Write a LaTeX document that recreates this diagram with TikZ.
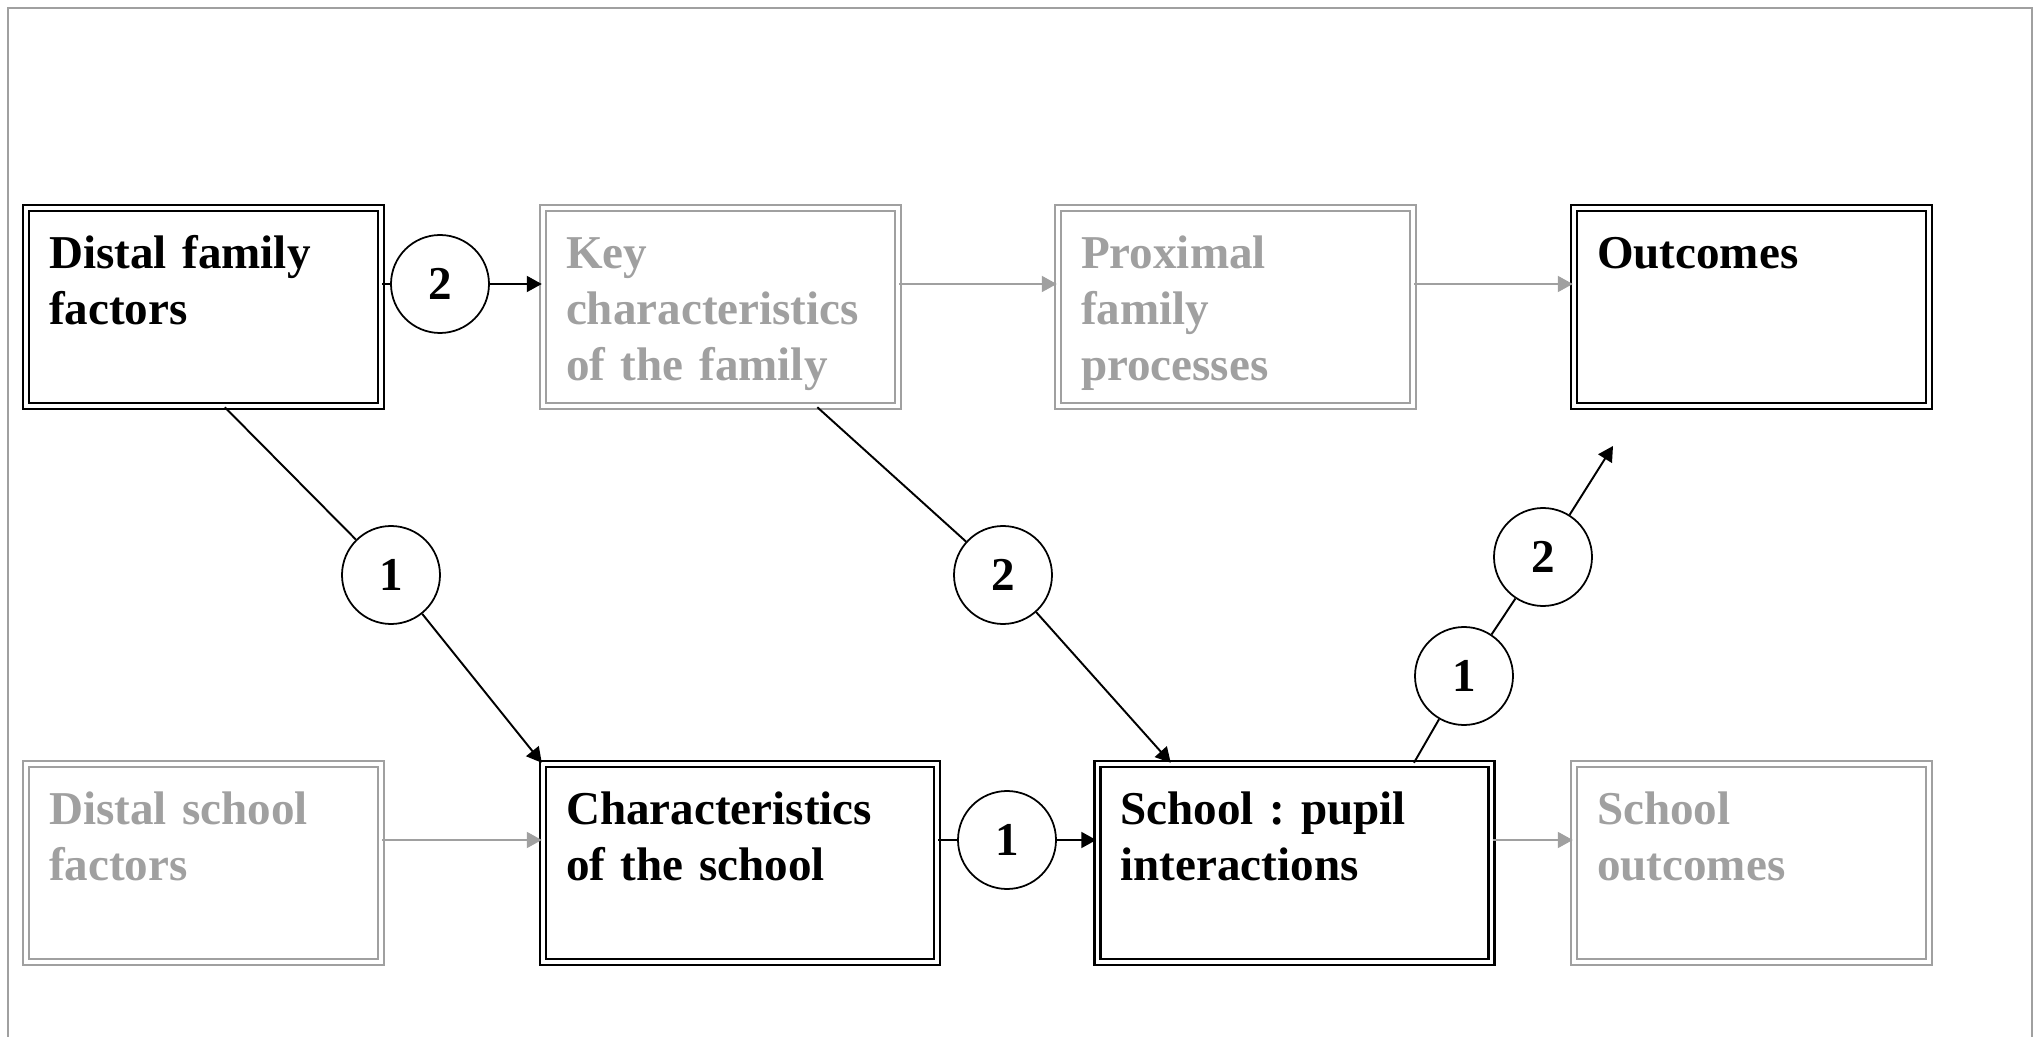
\documentclass[tikz,border=0pt]{standalone}
\usepackage{fontspec}
\setmainfont{Liberation Serif}
\usepackage{xcolor}
\usepackage{tikz}
\usetikzlibrary{arrows.meta}

\definecolor{fadedgray}{HTML}{A0A0A0}
\frenchspacing

\begin{document}
\begin{tikzpicture}[
    >={Triangle[length=1.5mm, width=1.6mm]},
    font=\fontsize{13.4}{15.9}\selectfont\bfseries,
    box style/.style={
        draw=black, double=white, double distance=1pt, line width=0.7pt,
        minimum height=1.98cm, inner xsep=0.23cm, inner ysep=0pt,
        text width=3.09cm, align=left,
        text height=0.61cm, text depth=1.37cm
    },
    faded box style/.style={box style, draw=fadedgray, text=fadedgray},
    wide box/.style={text width=3.48cm},
    circle style/.style={
        circle, draw, line width=0.5pt, fill=white,
        minimum size=0.98cm, inner sep=0pt
    },
    link style/.style={line width=0.55pt},
    faded link style/.style={line width=0.55pt, fadedgray},
    frame style/.style={fadedgray, line width=0.6pt}
]

    \useasboundingbox (0,0) rectangle (20.4,-10.37);

    % Page frame (bottom edge cut off)
    \draw[frame style] (0.08,-10.37) -- (0.08,-0.08) -- (20.32,-0.08) -- (20.32,-10.37);

    % --- FAMILY ROW ---
    \node[box style] (dff) at (2.035,-3.07) {Distal family\\factors\\~};
    \node[faded box style] (kcf) at (7.205,-3.07) {Key\\characteristics\\of the family};
    \node[faded box style] (pfp) at (12.355,-3.07) {Proximal\\family\\processes};
    \node[box style] (out) at (17.515,-3.07) {Outcomes\\~\\~};

    % --- SCHOOL ROW ---
    \node[faded box style] (dsf) at (2.035,-8.63) {Distal school\\factors\\~};
    \node[box style, wide box] (cos) at (7.40,-8.63) {Characteristics\\of the school\\~};
    \node[box style, wide box] (spi) at (12.945,-8.63) {School : pupil\\interactions\\~};
    \node[faded box style] (sout) at (17.515,-8.63) {School\\outcomes\\~};

    % --- PATH MARKERS ---
    \node[circle style] (c2top) at (4.40,-2.84) {2};
    \node[circle style] (c1left) at (3.91,-5.75) {1};
    \node[circle style] (c2mid) at (10.03,-5.75) {2};
    \node[circle style] (c1bot) at (10.07,-8.40) {1};
    \node[circle style] (c1right) at (14.64,-6.76) {1};
    \node[circle style] (c2right) at (15.43,-5.57) {2};
    \coordinate (outTip) at (16.13,-4.46);

    % Horizontal links, family row
    \draw[link style] ([yshift=2.3mm]dff.east) -- (c2top);
    \draw[link style, ->] (c2top) -- ([yshift=2.3mm]kcf.west);
    \draw[faded link style, ->] ([yshift=2.3mm]kcf.east) -- ([yshift=2.3mm]pfp.west);
    \draw[faded link style, ->] ([yshift=2.3mm]pfp.east) -- ([yshift=2.3mm]out.west);

    % Horizontal links, school row
    \draw[faded link style, ->] ([yshift=2.3mm]dsf.east) -- ([yshift=2.3mm]cos.west);
    \draw[link style] ([yshift=2.3mm]cos.east) -- (c1bot);
    \draw[link style, ->] (c1bot) -- ([yshift=2.3mm]spi.west);
    \draw[faded link style, ->] ([yshift=2.3mm]spi.east) -- ([yshift=2.3mm]sout.west);

    % Diagonal links
    \draw[link style] (dff.-78) -- (c1left);
    \draw[link style, ->] (c1left) -- (cos.north west);
    \draw[link style] (kcf.-46) -- (c2mid);
    \draw[link style, ->] (c2mid) -- (spi.141);
    \draw[link style] (spi.40) -- (c1right);
    \draw[link style] (c1right) -- (c2right);
    \draw[link style, ->] (c2right) -- (outTip);

\end{tikzpicture}
\end{document}
